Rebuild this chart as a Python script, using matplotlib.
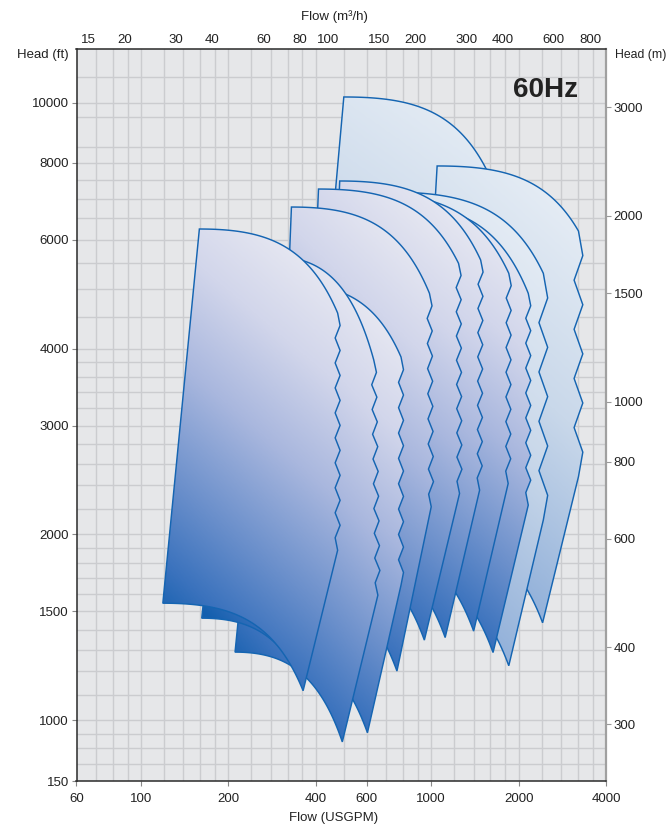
import numpy as np
import matplotlib
matplotlib.use('Agg')
import matplotlib.pyplot as plt
from matplotlib.patches import Polygon
from matplotlib.colors import LinearSegmentedColormap
from matplotlib.ticker import NullLocator

plt.rcParams['font.family'] = ['Liberation Sans', 'DejaVu Sans']

# ---------------- axis data ----------------
gpm_ticks = [60, 100, 200, 400, 600, 1000, 2000, 4000]
m3h_ticks = [15, 20, 30, 40, 60, 80, 100, 150, 200, 300, 400, 600, 800]
ft_ticks = [796, 1000, 1500, 2000, 3000, 4000, 6000, 8000, 10000]
ft_tick_labels = ['150', '1000', '1500', '2000', '3000', '4000', '6000', '8000', '10000']
m_ticks = [300, 400, 600, 800, 1000, 1500, 2000, 3000]

grid_gpm = [70, 80, 90, 100, 120, 140, 160, 180, 200, 240, 280, 320, 360, 400,
            500, 600, 700, 800, 900, 1000, 1200, 1400, 1600, 1800, 2000,
            2400, 2800, 3200, 3600]
grid_ft = [850, 900, 950, 1000, 1100, 1200, 1300, 1400, 1500, 1600, 1700, 1800,
           1900, 2000, 2200, 2400, 2600, 2800, 3000, 3200, 3400, 3600, 3800, 4000,
           4500, 5000, 5500, 6000, 6500, 7000, 7500, 8000, 8500, 9500, 10000, 11000]

# ---------------- curve envelopes (back -> front) ----------------
# LB = left-bottom, LT = left-top, RT = right-top (start of break),
# ZB = end of break, TIP = bottom-right tip.  Flow in USGPM, head in ft.
shape_names = ['T', 'S10', 'S9', 'S8', 'S7', 'S6', 'S5', 'S4', 'S3', 'S2', 'S1b', 'S1']
lb_q = [384, 887, 709, 629, 537, 429, 363, 293, 240, 211, 162, 119]
lb_h = [2542, 2010, 1712, 1804, 1950, 1908, 1886, 1680, 1333, 1289, 1463, 1547]
lt_q = [500, 1048, 698, 698, 572, 484, 409, 330, 339, 288, 220, 159]
lt_h = [10227, 7906, 7174, 6860, 7147, 7475, 7254, 6783, 5070, 5634, 5567, 6249]
rt_q = [2047, 3215, 2433, 2159, 1850, 1480, 1242, 986, 787, 634, 433, 476]
rt_h = [4962, 6202, 5297, 4916, 5297, 5567, 5497, 4916, 3876, 3833, 4129, 4568]
zb_q = [2047, 3215, 2433, 2159, 1841, 1468, 1252, 1000, 787, 655, 433, 476]
zb_h = [2739, 2480, 2110, 2231, 2418, 2359, 2330, 2217, 1655, 1594, 2110, 1885]
tip_q = [1082, 2419, 1850, 1633, 1400, 1117, 947, 762, 603, 494, 343, 362]
tip_h = [1817, 1438, 1225, 1287, 1394, 1361, 1348, 1201, 954, 922, 1205, 1116]
light = [True, True, True, False, False, False, False, False, False, False, False, False]

# ---------------- figure ----------------
W, H = 669, 827
fig = plt.figure(figsize=(W / 100, H / 100), dpi=100)
ax = fig.add_axes([76.5 / W, 1 - 781.3 / H, (606 - 76.5) / W, (781.3 - 49.3) / H])
ax.set_xscale('log')
ax.set_yscale('log')
ax.set_autoscale_on(False)
ax.set_xlim(60, 4000)
ax.set_ylim(796, 12218)
ax.set_facecolor('#e6e7e9')

for g in grid_gpm:
    ax.axvline(g, color='#cbcccf', lw=1.0, zorder=0.5)
for g in grid_ft:
    ax.axhline(g, color='#cbcccf', lw=1.0, zorder=0.5)

cmap_dark = LinearSegmentedColormap.from_list('dark', [
    (0.0, '#e8e9f2'), (0.22, '#d2d6eb'), (0.45, '#a9b7de'),
    (0.70, '#6a8fcb'), (0.88, '#3a72bd'), (1.0, '#135fae')])
cmap_light = LinearSegmentedColormap.from_list('light', [
    (0.0, '#e6edf5'), (0.45, '#c9d8ea'), (1.0, '#86a8d6')])

edge = '#1565b2'


def zigzag(p0, p1, step, amp):
    span = p0[1] - p1[1]
    n = max(2, int(round(span / step)))
    pts = []
    for k in range(1, n):
        f = k / n
        p = p0 + (p1 - p0) * f
        off = amp / 2 if k % 2 else -amp / 2
        pts.append([p[0] + off, p[1]])
    return np.array(pts)


for i, name in enumerate(shape_names):
    q = np.linspace(lt_q[i], rt_q[i], 80)
    t = (q - lt_q[i]) / (rt_q[i] - lt_q[i])
    h = lt_h[i] - (lt_h[i] - rt_h[i]) * t ** 2
    top = np.column_stack([np.log10(q), np.log10(h)])

    p0 = np.log10([rt_q[i], rt_h[i]])
    p1 = np.log10([zb_q[i], zb_h[i]])
    if light[i]:
        zz = zigzag(p0, p1, 0.040, 0.030)
    else:
        zz = zigzag(p0, p1, 0.0200, 0.017)

    q = np.linspace(tip_q[i], lb_q[i], 80)
    t = (q - lb_q[i]) / (tip_q[i] - lb_q[i])
    h = lb_h[i] - (lb_h[i] - tip_h[i]) * t ** 2
    bottom = np.column_stack([np.log10(q), np.log10(h)])

    verts = np.vstack([top, zz, [p1], bottom])
    data = 10 ** verts

    z = 2 + i * 0.1
    patch = Polygon(data, closed=True, facecolor='none', edgecolor=edge,
                    lw=1.05, zorder=z + 0.05, joinstyle='miter')
    ax.add_patch(patch)

    disp = ax.transData.transform(data)
    axc = ax.transAxes.inverted().transform(disp)
    x0, y0 = axc.min(axis=0)
    x1, y1 = axc.max(axis=0)
    ny, nx = 300, 120
    yy = np.linspace(0, 1, ny)[:, None]      # row 0 = bottom of shape
    xx = np.linspace(0, 1, nx)[None, :]
    s = np.clip((1 - yy) * 0.92 + 0.30 * (0.5 - xx) + 0.06, 0, 1)
    cm = cmap_light if light[i] else cmap_dark
    img = cm(s)
    im = ax.imshow(img, extent=[x0, x1, y0, y1], transform=ax.transAxes,
                   origin='lower', aspect='auto', zorder=z, interpolation='bilinear')
    im.set_clip_path(patch)

ax.set_xlim(60, 4000)
ax.set_ylim(796, 12218)

# ---------------- ticks ----------------
fs = 9.5
tick_kw = dict(labelsize=fs, colors='#222222', length=3.5, width=0.8)
ax.set_xticks(gpm_ticks, labels=[str(v) for v in gpm_ticks])
ax.xaxis.set_minor_locator(NullLocator())
ax.set_yticks(ft_ticks, labels=ft_tick_labels)
ax.yaxis.set_minor_locator(NullLocator())
ax.tick_params(axis='x', pad=5, **tick_kw)
ax.tick_params(axis='y', pad=2, **tick_kw)
ax.tick_params(axis='both', color='#888888')

secx = ax.secondary_xaxis('top', functions=(lambda q: q / 4.4029, lambda m: m * 4.4029))
secx.set_xticks(m3h_ticks, labels=[str(v) for v in m3h_ticks])
secx.xaxis.set_minor_locator(NullLocator())
secx.tick_params(axis='x', pad=2.5, length=0, labelsize=fs, colors='#222222')

secy = ax.secondary_yaxis('right', functions=(lambda f: f / 3.28084, lambda m: m * 3.28084))
secy.set_yticks(m_ticks, labels=[str(v) for v in m_ticks])
secy.yaxis.set_minor_locator(NullLocator())
secy.tick_params(axis='y', pad=2, length=3.5, width=0.8, labelsize=fs, colors='#222222')
secy.tick_params(axis='y', color='#999999')

for sp in ['left', 'bottom', 'top']:
    ax.spines[sp].set_color('#2a2a2a')
    ax.spines[sp].set_linewidth(1.1)
ax.spines['right'].set_color('#a0a0a0')
ax.spines['right'].set_linewidth(1.6)
secx.spines['top'].set_visible(False)
secy.spines['right'].set_visible(False)

# ---------------- labels ----------------
fig.text(69 / W, 1 - 55 / H, 'Head (ft)', ha='right', va='center', fontsize=fs, color='#222222')
fig.text(666 / W, 1 - 55 / H, 'Head (m)', ha='right', va='center', fontsize=8.8, color='#222222')
fig.text(334 / W, 1 - 17 / H, 'Flow (m\u00b3/h)', ha='center', va='center', fontsize=fs, color='#222222')
fig.text(334 / W, 1 - 818 / H, 'Flow (USGPM)', ha='center', va='center', fontsize=fs, color='#222222')
ax.text(0.885, 0.945, '60Hz', transform=ax.transAxes, ha='center', va='center',
        fontsize=20, fontweight='bold', color='#222222')

fig.savefig('out.png', dpi=100)
